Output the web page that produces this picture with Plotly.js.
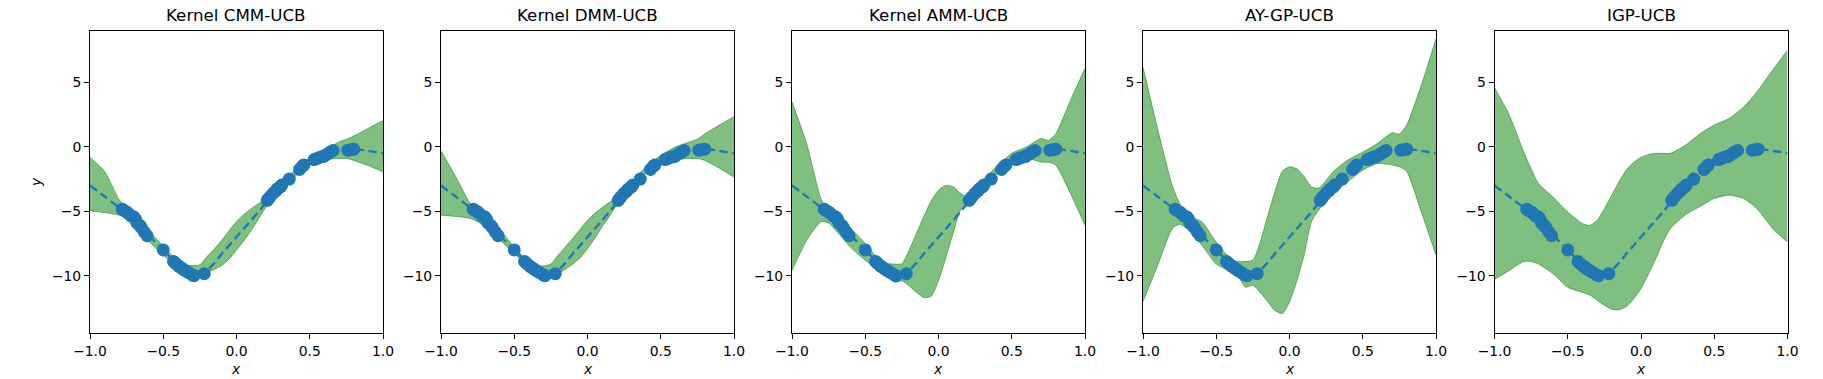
<!DOCTYPE html>
<html>
<head>
<meta charset="utf-8">
<script src="https://cdn.plot.ly/plotly-3.0.1.min.js"></script>
<style>
  body { margin: 0; background: #fff; }
  #myPlot { width: 1823px; height: 379px; }
</style>
</head>
<body>
<div id="myPlot"></div>
<script>
// shared grid along x
const xGrid = [-1, -0.9, -0.8, -0.75, -0.7, -0.6, -0.5, -0.4, -0.35, -0.3, -0.25, -0.2, -0.15, -0.1, -0.05,
               0, 0.05, 0.1, 0.15, 0.2, 0.3, 0.4, 0.5, 0.6, 0.7, 0.75, 0.8, 0.9, 1.0];

// true function (dashed)
const trueY = [-3.0, -3.85, -4.7, -5.05, -5.5, -6.85, -8.0, -9.15, -9.6, -9.95, -10.0, -9.6, -9.0, -8.3, -7.65,
               -7.0, -6.35, -5.7, -5.05, -4.35, -3.15, -2.05, -1.2, -0.65, -0.25, -0.2, -0.18, -0.3, -0.5];

// confidence bands, one pair per method
const cmmUpper = [-0.8, -1.9, -4.1, -4.7, -5.2, -6.5, -7.7, -8.9, -9.2, -9.2, -9.15, -8.5, -7.9, -7.25, -6.5,
                  -5.8, -5.25, -4.8, -4.4, -4.0, -2.9, -1.8, -0.85, -0.3, 0.4, 0.6, 0.85, 1.45, 2.05];
const cmmLower = [-4.95, -5.1, -5.3, -5.45, -5.85, -7.3, -8.4, -9.4, -9.8, -10.15, -10.0, -9.75, -9.5, -9.2, -8.7,
                  -8.0, -7.3, -6.5, -5.6, -4.7, -3.5, -2.3, -1.35, -1.0, -0.9, -0.9, -1.05, -1.45, -1.95];

const dmmUpper = [-0.3, -2.3, -4.4, -4.9, -5.4, -6.4, -7.8, -8.9, -9.2, -9.25, -9.1, -8.4, -7.75, -7.1, -6.4,
                  -5.7, -5.15, -4.7, -4.3, -3.9, -2.7, -1.55, -0.65, 0.0, 0.4, 0.6, 1.0, 1.7, 2.35];
const dmmLower = [-5.3, -5.4, -5.55, -5.8, -6.2, -7.2, -8.3, -9.3, -9.7, -10.1, -10.0, -9.85, -9.5, -9.1, -8.6,
                  -7.9, -7.1, -6.2, -5.4, -4.5, -3.3, -2.0, -1.3, -1.0, -0.9, -0.9, -1.05, -1.65, -2.35];

const ammUpper = [3.5, 0.26, -4.1, -5.0, -5.7, -6.35, -7.5, -8.8, -9.05, -9.1, -9.07, -8.0, -6.7, -5.4, -4.2,
                  -3.37, -2.98, -3.1, -3.6, -3.9, -2.6, -1.5, -0.5, 0.0, 0.65, 0.5, 1.0, 3.6, 6.1];
const ammLower = [-9.6, -7.25, -5.8, -5.9, -6.5, -7.8, -8.8, -9.6, -10.0, -10.5, -10.4, -10.8, -11.3, -11.7, -11.6,
                  -10.4, -8.6, -6.7, -4.9, -4.35, -3.1, -2.1, -1.25, -0.9, -1.17, -1.2, -1.4, -3.6, -6.1];

const ayUpper = [6.2, 1.4, -3.0, -4.4, -5.3, -5.8, -7.4, -8.7, -8.9, -8.9, -8.8, -7.4, -5.4, -3.5, -1.9,
                 -1.55, -1.7, -2.3, -3.1, -3.2, -1.9, -1.0, -0.4, 0.26, 1.1, 1.0, 1.7, 4.8, 8.4];
const ayLower = [-12.0, -9.2, -6.35, -6.0, -6.35, -7.6, -9.1, -9.7, -10.1, -10.9, -10.75, -11.3, -12.0, -12.7, -12.95,
                 -12.05, -10.4, -8.4, -5.8, -4.9, -3.6, -2.7, -1.8, -1.3, -1.4, -1.55, -1.9, -5.05, -8.4];

const igpUpper = [4.6, 2.5, -0.4, -1.7, -2.85, -3.9, -5.05, -5.95, -6.1, -5.7, -4.8, -3.75, -2.7, -1.8, -1.2,
                  -0.8, -0.6, -0.5, -0.5, -0.5, 0.1, 1.0, 1.7, 2.2, 3.1, 3.7, 4.4, 6.0, 7.5];
const igpLower = [-10.3, -9.6, -8.9, -8.9, -9.1, -9.85, -10.9, -11.3, -11.5, -11.9, -12.3, -12.6, -12.65, -12.4, -11.8,
                  -11.0, -9.9, -8.7, -7.4, -6.35, -5.3, -4.65, -4.0, -3.75, -4.0, -4.4, -4.9, -6.35, -7.4];

// observed points (same in every panel)
const obsX = [-0.78, -0.77, -0.75, -0.74, -0.72, -0.70, -0.69, -0.68, -0.66, -0.65, -0.63, -0.61, -0.50,
              -0.43, -0.42, -0.40, -0.39, -0.37, -0.35, -0.33, -0.30, -0.29, -0.22,
              0.21, 0.22, 0.23, 0.25, 0.27, 0.28, 0.30, 0.31, 0.36, 0.43, 0.45, 0.46,
              0.53, 0.55, 0.57, 0.59, 0.60, 0.62, 0.64, 0.66, 0.76, 0.78, 0.80];
const obsY = [-4.85, -4.92, -5.05, -5.15, -5.35, -5.45, -5.6, -5.9, -6.1, -6.25, -6.6, -6.9, -8.0,
              -8.9, -9.0, -9.2, -9.3, -9.45, -9.6, -9.75, -9.95, -10.0, -9.84,
              -4.15, -4.0, -3.85, -3.6, -3.4, -3.25, -3.1, -2.95, -2.5, -1.75, -1.5, -1.4,
              -0.98, -0.9, -0.8, -0.75, -0.7, -0.55, -0.4, -0.28, -0.25, -0.22, -0.18];

const titles = ["Kernel CMM-UCB", "Kernel DMM-UCB", "Kernel AMM-UCB", "AY-GP-UCB", "IGP-UCB"];
const uppers = [cmmUpper, dmmUpper, ammUpper, ayUpper, igpUpper];
const lowers = [cmmLower, dmmLower, ammLower, ayLower, igpLower];

const W = 1823, H = 379;
const lefts = [90, 441, 792, 1143, 1494.5];
const pw = 293;
const font = "DejaVu Sans, sans-serif";
const bandLine = {color: "rgba(0,128,0,0.5)", width: 1, shape: "spline", smoothing: 0.6};

const data = [];
const layout = {
  width: W, height: H,
  margin: {l: 0, r: 0, t: 0, b: 0},
  showlegend: false,
  paper_bgcolor: "white",
  plot_bgcolor: "white",
  font: {family: font, size: 13.9, color: "black"},
  annotations: []
};

for (let i = 0; i < 5; i++) {
  const s = i === 0 ? "" : String(i + 1);
  const xa = "x" + s, ya = "y" + s;

  data.push({x: xGrid, y: lowers[i], xaxis: xa, yaxis: ya, mode: "lines",
             line: bandLine, hoverinfo: "skip"});
  data.push({x: xGrid, y: uppers[i], xaxis: xa, yaxis: ya, mode: "lines",
             line: bandLine, fill: "tonexty", fillcolor: "rgba(0,128,0,0.5)", hoverinfo: "skip"});
  data.push({x: xGrid, y: trueY, xaxis: xa, yaxis: ya, mode: "lines",
             line: {color: "#1f77b4", width: 2.3, dash: "8.5px,4.5px", shape: "spline", smoothing: 0.6}});
  data.push({x: obsX, y: obsY, xaxis: xa, yaxis: ya, mode: "markers",
             marker: {color: "#1f77b4", size: 13}});

  const d0 = lefts[i] / W, d1 = (lefts[i] + pw) / W;
  layout["xaxis" + s] = {
    domain: [d0, d1], anchor: ya, range: [-1, 1],
    tickvals: [-1, -0.5, 0, 0.5, 1],
    ticktext: ["\u22121.0", "\u22120.5", "0.0", "0.5", "1.0"],
    ticks: "outside", ticklen: 5, tickwidth: 1, tickcolor: "black",
    showline: true, linecolor: "black", linewidth: 1, mirror: true,
    showgrid: false, zeroline: false,
    tickfont: {family: font, size: 13.9, color: "black"}
  };
  layout["yaxis" + s] = {
    domain: [1 - 333 / H, 1 - 31 / H], anchor: xa, range: [-14.45, 9.0],
    tickvals: [-10, -5, 0, 5],
    ticktext: ["\u221210", "\u22125", "0", "5"],
    ticks: "outside", ticklen: 5, tickwidth: 1, tickcolor: "black",
    showline: true, linecolor: "black", linewidth: 1, mirror: true,
    showgrid: false, zeroline: false,
    tickfont: {family: font, size: 13.9, color: "black"}
  };

  const cx = (lefts[i] + pw / 2) / W;
  layout.annotations.push({text: titles[i], xref: "paper", yref: "paper", x: cx, y: 1 - 15 / H,
    xanchor: "center", yanchor: "middle", showarrow: false, font: {family: font, size: 16.7, color: "black"}});
  layout.annotations.push({text: "<i>x</i>", xref: "paper", yref: "paper", x: cx, y: 1 - 369 / H,
    xanchor: "center", yanchor: "middle", showarrow: false, font: {family: font, size: 13.9, color: "black"}});
}

layout.annotations.push({text: "<i>y</i>", xref: "paper", yref: "paper", x: 36 / W, y: 1 - 182 / H,
  xanchor: "center", yanchor: "middle", textangle: -90, showarrow: false,
  font: {family: font, size: 13.9, color: "black"}});

Plotly.newPlot("myPlot", data, layout, {displayModeBar: false, staticPlot: true});
</script>
</body>
</html>
